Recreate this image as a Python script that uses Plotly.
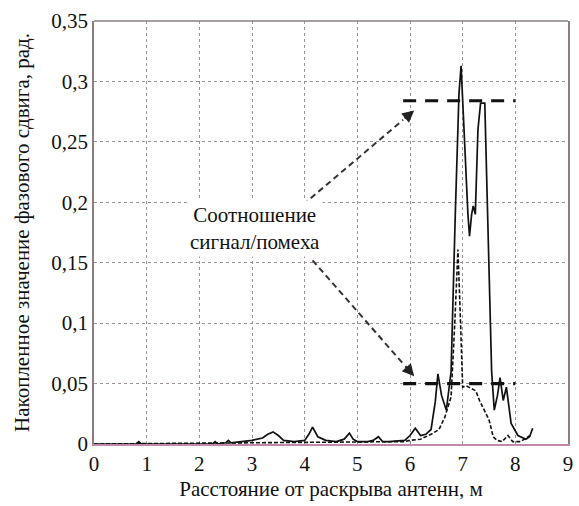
import plotly.graph_objects as go

# Solid curve: accumulated phase shift
solid_x = [0, 0.8, 0.85, 0.9, 1.5, 2.25, 2.3, 2.35, 2.5, 2.55, 2.6, 2.8, 3.0, 3.2, 3.3, 3.4, 3.5, 3.6,
           3.8, 4.0, 4.08, 4.15, 4.25, 4.4, 4.6, 4.75, 4.85, 4.92, 5.0, 5.2, 5.3, 5.4, 5.48, 5.6,
           5.9, 6.0, 6.1, 6.2, 6.3, 6.4, 6.48, 6.53, 6.6, 6.69, 6.78, 6.86, 6.93, 6.97, 7.02, 7.1,
           7.13, 7.17, 7.2, 7.24, 7.29, 7.34, 7.42, 7.48, 7.55, 7.6, 7.66, 7.71, 7.77, 7.83, 7.92,
           8.05, 8.2, 8.27, 8.33]
solid_y = [0, 0, 0.002, 0, 0, 0, 0.002, 0, 0.001, 0.003, 0.001, 0.002, 0.003, 0.005, 0.008, 0.010,
           0.007, 0.003, 0.002, 0.003, 0.008, 0.014, 0.006, 0.003, 0.002, 0.004, 0.009, 0.004, 0.002,
           0.002, 0.003, 0.006, 0.002, 0.002, 0.003, 0.007, 0.013, 0.007, 0.008, 0.012, 0.035, 0.058,
           0.040, 0.028, 0.06, 0.19, 0.29, 0.313, 0.26, 0.19, 0.172, 0.19, 0.197, 0.19, 0.26, 0.282,
           0.282, 0.17, 0.06, 0.028, 0.04, 0.055, 0.036, 0.047, 0.017, 0.007, 0.004, 0.006, 0.013]

# Dashed curve
dash_x = [0, 3.0, 5.9, 6.0, 6.2, 6.4, 6.55, 6.66, 6.78, 6.85, 6.91, 6.96, 7.0, 7.07, 7.15, 7.25,
          7.32, 7.39, 7.5, 7.58, 7.65, 7.75, 7.86, 7.95, 8.1, 8.28]
dash_y = [0, 0.001, 0.002, 0.003, 0.004, 0.008, 0.012, 0.022, 0.039, 0.1, 0.161, 0.1, 0.047, 0.048,
          0.046, 0.044, 0.036, 0.03, 0.02, 0.006, 0.003, 0.002, 0.007, 0.002, 0.002, 0.007]

# Signal/noise levels
level_x = [5.87, 8.0]
levels = [0.284, 0.05]

x_ticks = [0, 1, 2, 3, 4, 5, 6, 7, 8, 9]
y_ticks = [0, 0.05, 0.1, 0.15, 0.2, 0.25, 0.3, 0.35]
y_tick_text = ["0", "0,05", "0,1", "0,15", "0,2", "0,25", "0,3", "0,35"]

annot_text = "Соотношение<br>сигнал/помеха"
annot_pos = (3.05, 0.178)
arrow_tails = [(3.97, 0.198), (4.15, 0.152)]
arrow_heads = [(6.08, 0.276), (6.08, 0.056)]

FONT = "'Times New Roman', 'Liberation Serif', serif"

fig = go.Figure()
fig.add_trace(go.Scatter(x=solid_x, y=solid_y, mode="lines",
                         line=dict(color="#111111", width=1.7), showlegend=False))
fig.add_trace(go.Scatter(x=dash_x, y=dash_y, mode="lines",
                         line=dict(color="#111111", width=1.6, dash="4px,2px"), showlegend=False))
for lv in levels:
    fig.add_trace(go.Scatter(x=level_x, y=[lv, lv], mode="lines",
                             line=dict(color="#111111", width=3.2, dash="13px,9px"),
                             showlegend=False))

# dashed arrow shafts + arrowheads
for (tx, ty), (hx, hy) in zip(arrow_tails, arrow_heads):
    fx = tx + (hx - tx) * 0.9
    fy = ty + (hy - ty) * 0.9
    fig.add_trace(go.Scatter(x=[tx, fx], y=[ty, fy], mode="lines",
                             line=dict(color="#333333", width=2, dash="6px,4px"),
                             showlegend=False))
    fig.add_annotation(x=hx, y=hy, ax=fx, ay=fy, xref="x", yref="y", axref="x", ayref="y",
                       text="", showarrow=True, arrowhead=2, arrowsize=1.2, arrowwidth=2,
                       arrowcolor="#222222")

fig.add_annotation(x=annot_pos[0], y=annot_pos[1], xref="x", yref="y", text=annot_text,
                   showarrow=False, font=dict(family=FONT, size=21, color="#111111"),
                   bgcolor="white", align="center", borderpad=2)

# top border
fig.add_shape(type="line", xref="paper", yref="paper", x0=0, x1=1, y0=1, y1=1,
              line=dict(color="#8a7e80", width=1.5))

fig.update_layout(
    width=579, height=506,
    margin=dict(l=94, r=6, t=21, b=62),
    paper_bgcolor="white", plot_bgcolor="white",
    font=dict(family=FONT, size=20, color="#111111"),
    xaxis=dict(range=[0, 9], tickvals=x_ticks, ticks="", showgrid=True,
               gridcolor="#9c9494", griddash="dot", gridwidth=1.2,
               showline=True, linecolor="#c08aa8", linewidth=2, zeroline=False,
               title=dict(text="Расстояние от раскрыва антенн, м", font=dict(family=FONT, size=21),
                          standoff=6),
               tickfont=dict(family=FONT, size=21)),
    yaxis=dict(range=[0, 0.35], tickvals=y_ticks, ticktext=y_tick_text, ticks="",
               showgrid=True, gridcolor="#9c9494", griddash="dot", gridwidth=1.2,
               showline=True, mirror=True, linecolor="#8a7e80", linewidth=1.5, zeroline=False,
               title=dict(text="Накопленное значение фазового сдвига, рад.",
                          font=dict(family=FONT, size=21), standoff=16),
               tickfont=dict(family=FONT, size=21)),
)

fig.write_html("out.html", config={"displayModeBar": False},
               post_script="document.body.style.margin='0';document.body.style.overflow='hidden';")
